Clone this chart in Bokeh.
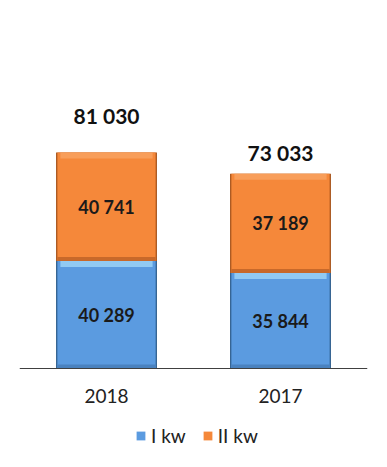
from bokeh.plotting import figure
from bokeh.models import ColumnDataSource, FactorRange, Range1d, Legend, LegendItem, Span
from bokeh.core.properties import value
from bokeh.embed import file_html
from bokeh.resources import INLINE

# ---- data ----
years = ["2018", "2017"]
q1 = [40289, 35844]          # I kw
q2 = [40741, 37189]          # II kw
series_names = ["I kw", "II kw"]
totals = [a + b for a, b in zip(q1, q2)]

# ---- style ----
FONT = "Lato"
BLUE = "#5b9be0"
ORANGE = "#f5883a"
BLUE_LIGHT = "#9fd6f7"
ORANGE_LIGHT = "#f9a463"
BLUE_DARK = "#2f5f8f"
ORANGE_DARK = "#a9551c"
total_label_offsets = [37, 21]   # px above the bar top (as in the original)


def fmt(v):
    return f"{v:,}".replace(",", " ")


PX = 375.0  # data units per pixel
W, H = 379, 459
p = figure(width=W, height=H, x_range=FactorRange(*years),
           y_range=Range1d(-91 * PX, 360 * PX),
           output_backend="svg", toolbar_location=None,
           min_border_left=19, min_border_right=12, min_border_top=8, min_border_bottom=0)
p.outline_line_color = None
p.grid.visible = False
p.yaxis.visible = False
p.xaxis.visible = False
p.background_fill_color = None
p.border_fill_color = "white"

src = ColumnDataSource(dict(
    x=years, q1=q1, q2=q2, top2=totals, total=totals,
    q1_lbl=[fmt(v) for v in q1], q2_lbl=[fmt(v) for v in q2],
    tot_lbl=[fmt(v) for v in totals],
    q1_mid=[v / 2 for v in q1], q2_mid=[a + b / 2 for a, b in zip(q1, q2)],
    zero=[0, 0], off=[-o for o in total_label_offsets],
))

BW = 0.58

# shadows (dark edges)
p.vbar(x="x", width=BW, bottom="zero", top="q1", source=src, fill_color=BLUE_DARK, line_color=None)
p.vbar(x="x", width=BW, bottom="q1", top="top2", source=src, fill_color=ORANGE_DARK, line_color=None)

r1 = p.vbar(x="x", width=BW - 0.015, bottom="zero", top="q1", source=src,
            fill_color=BLUE, line_color=None)
r2 = p.vbar(x="x", width=BW - 0.015, bottom="q1", top="top2", source=src,
            fill_color=ORANGE, line_color=None)

# bevel highlights at segment tops, darker band at segment bottoms
src.data["q1_hl"] = [v - 6 * PX for v in q1]
src.data["t2_hl"] = [v - 6 * PX for v in totals]
src.data["q1_dk"] = [4 * PX for v in q1]
src.data["t2_dk"] = [a + 4 * PX for a in q1]
p.vbar(x="x", width=BW - 0.05, bottom="q1_hl", top="q1", source=src,
       fill_color=BLUE_LIGHT, line_color=None, fill_alpha=0.8)
p.vbar(x="x", width=BW - 0.05, bottom="t2_hl", top="top2", source=src,
       fill_color=ORANGE_LIGHT, line_color=None, fill_alpha=0.8)
p.vbar(x="x", width=BW - 0.015, bottom="zero", top="q1_dk", source=src,
       fill_color="#4a82bf", line_color=None)
p.vbar(x="x", width=BW - 0.015, bottom="q1", top="t2_dk", source=src,
       fill_color="#c8692a", line_color=None)

# baseline (category axis line)
p.add_layout(Span(location=0, dimension="width", line_color="#404040", line_width=1))

# labels
p.text(x="x", y="q1_mid", text="q1_lbl", source=src, text_align="center", text_baseline="middle",
       text_font=value(FONT), text_font_style="bold", text_font_size="18px", text_color="#1a1a1a")
p.text(x="x", y="q2_mid", text="q2_lbl", source=src, text_align="center", text_baseline="middle",
       text_font=value(FONT), text_font_style="bold", text_font_size="18px", text_color="#1a1a1a")
p.text(x="x", y="total", text="tot_lbl", source=src, y_offset="off", text_align="center",
       text_baseline="middle", text_font=value(FONT), text_font_style="bold",
       text_font_size="21px", text_color="#111111")
# category labels
p.text(x="x", y="zero", text="x", source=src, y_offset=27, text_align="center",
       text_baseline="middle", text_font=value(FONT), text_font_size="19px",
       text_color="#222222")

legend = Legend(items=[LegendItem(label=series_names[0], renderers=[r1]),
                       LegendItem(label=series_names[1], renderers=[r2])],
                orientation="horizontal", location=(116, 12),
                glyph_width=11, glyph_height=11, label_standoff=5, spacing=16,
                padding=0, margin=0, border_line_color=None, background_fill_alpha=0,
                label_text_font=FONT, label_text_font_size="19px", label_height=16,
                label_text_color="#222222")
p.add_layout(legend, "center")

open("out.html", "w").write(file_html(p, INLINE))
